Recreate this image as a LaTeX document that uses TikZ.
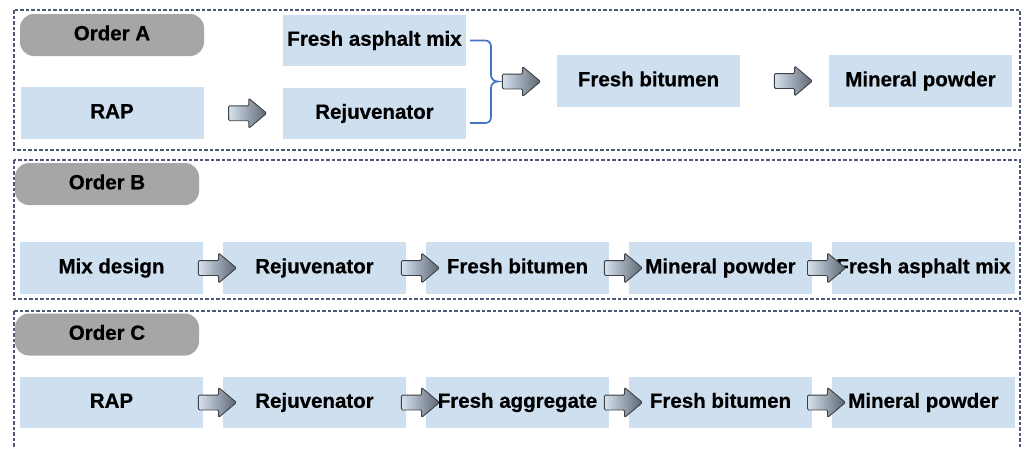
\documentclass[tikz,border=0pt]{standalone}
\usepackage{fontspec}
\setmainfont{Liberation Sans}[BoldFeatures={FakeBold=0.6}]
\usetikzlibrary{shapes.arrows,calc}
\definecolor{boxblue}{RGB}{206,223,239}
\definecolor{pillgrey}{RGB}{166,166,166}
\definecolor{framecol}{RGB}{78,90,115}
\definecolor{bracecol}{RGB}{68,114,196}
\definecolor{arrowline}{RGB}{60,64,70}
\definecolor{arrowlight}{RGB}{214,226,238}
\definecolor{arrowdark}{RGB}{92,102,114}
\tikzset{
  labelfont/.style={font=\fontsize{20.5}{23}\selectfont\bfseries,
    text height=14.5pt, text depth=4pt},
  panel/.style={draw=framecol, line width=1.1pt, dash pattern=on 3.5pt off 2pt},
  pill/.style={rectangle, rounded corners=14pt, fill=pillgrey, minimum width=184pt,
    minimum height=42pt, inner sep=0pt, labelfont},
  stepbox/.style={rectangle, fill=boxblue, minimum width=183pt, minimum height=52pt,
    inner sep=0pt, labelfont},
  blockarrow/.style={single arrow, draw=arrowline, line width=0.9pt,
    left color=arrowlight, right color=arrowdark, inner xsep=0pt, inner ysep=7pt,
    minimum height=38pt, single arrow head extend=7.5pt, single arrow tip angle=80,
    rounded corners=1.2pt},
  bracket/.style={draw=bracecol, line width=1.7pt}
}
\begin{document}
\begin{tikzpicture}[x=1pt,y=-1pt]
\useasboundingbox (0,0) rectangle (1024,448);
\clip (0,0) rectangle (1024,448);
\fill[white] (0,0) rectangle (1024,448);

% frames of the three orders
\draw[panel] (14,10) rectangle (1020,150);
\draw[panel] (14,160) rectangle (1020,299);
\draw[panel] (14,311) rectangle (1020,470);

% order labels
\node[pill] (ordA) at (112,35) {Order A};
\node[pill] (ordB) at (107,184) {Order B};
\node[pill] (ordC) at (107,334.5) {Order C};

% Order A
\node[stepbox] (rapA) at (112,113) {RAP};
\node[stepbox, minimum height=51pt] (famA) at (374.5,40.5) {Fresh asphalt mix};
\node[stepbox, minimum height=51pt] (rejA) at (374.5,113.5) {Rejuvenator};
\node[stepbox] (fbA) at (648.5,81) {Fresh bitumen};
\node[stepbox] (mpA) at (920.5,81) {Mineral powder};

\node[blockarrow] (arA1) at ($(rapA.east)!0.5!(rejA.west)$) {};
\coordinate (braceTip) at (498,81.5);
\draw[bracket] (famA.east) ++(4,0) -- (485,40.5)
  .. controls (489,40.5) and (491,43) .. (491,47) -- (491,75)
  .. controls (491,79) and (494,81.5) .. (braceTip)
  .. controls (494,81.5) and (491,84) .. (491,88) -- (491,116.5)
  .. controls (491,121) and (489,123) .. (485,123) -- (470,123);
\node[blockarrow] (arA2) at ($(braceTip)+(19,0)$) {};
\node[blockarrow] (arA3) at ($(fbA.east)!0.55!(mpA.west)$) {};

% Order B
\node[stepbox] (b1) at (111.5,268) {Mix design};
\node[stepbox] (b2) at (314.5,268) {Rejuvenator};
\node[stepbox] (b3) at (517.5,268) {Fresh bitumen};
\node[stepbox] (b4) at (720.5,268) {Mineral powder};
\node[stepbox] (b5) at (923.5,268) {Fresh asphalt mix};
\foreach \p/\q in {b1/b2,b2/b3,b3/b4,b4/b5}
  \node[blockarrow] (ar\p) at ($(\p.east)!0.5!(\q.west)$) {};

% Order C
\node[stepbox, minimum height=51pt] (c1) at (111.5,402.5) {RAP};
\node[stepbox, minimum height=51pt] (c2) at (314.5,402.5) {Rejuvenator};
\node[stepbox, minimum height=51pt] (c3) at (517.5,402.5) {Fresh aggregate};
\node[stepbox, minimum height=51pt] (c4) at (720.5,402.5) {Fresh bitumen};
\node[stepbox, minimum height=51pt] (c5) at (923.5,402.5) {Mineral powder};
\foreach \p/\q in {c1/c2,c2/c3,c3/c4,c4/c5}
  \node[blockarrow] (ar\p) at ($(\p.east)!0.5!(\q.west)$) {};
\end{tikzpicture}
\end{document}
